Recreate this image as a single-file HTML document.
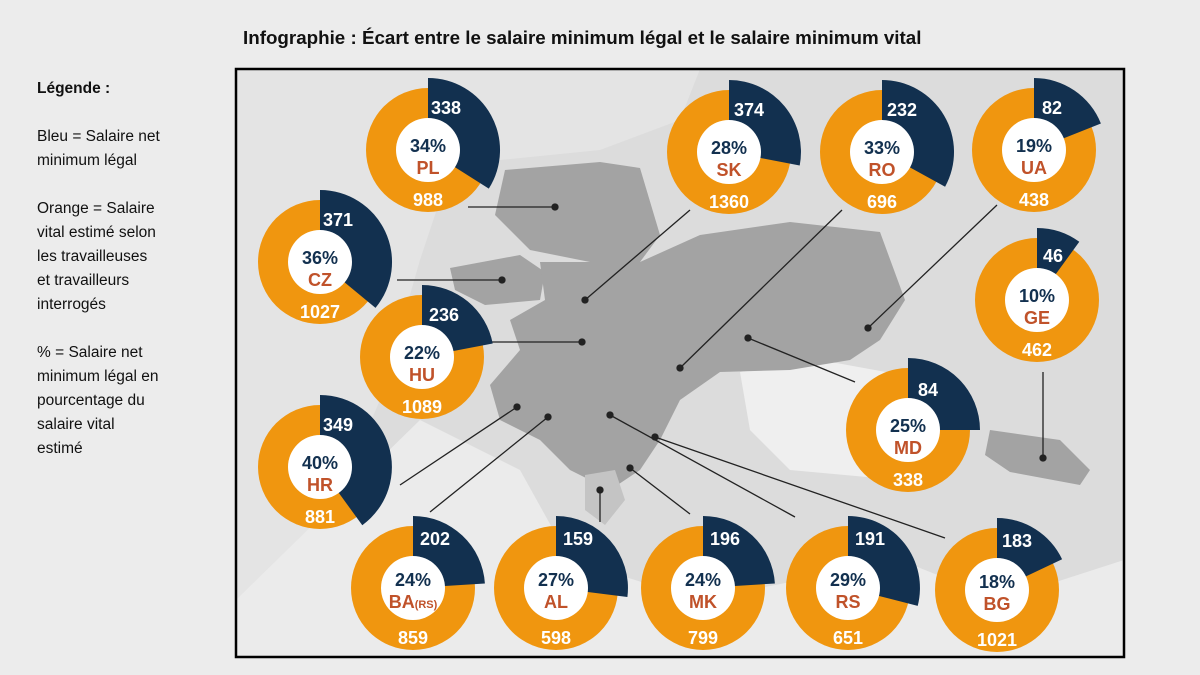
<!DOCTYPE html>
<html><head><meta charset="utf-8"><style>
body{margin:0;width:1200px;height:675px;background:#ececec;font-family:"Liberation Sans",sans-serif;overflow:hidden;position:relative}
#t{position:absolute;left:243px;top:27px;font-size:18.8px;font-weight:bold;color:#111;white-space:nowrap}
#l{position:absolute;left:37px;top:77px;font-size:15.5px;line-height:24px;color:#111;white-space:nowrap}
#l p{margin:0 0 24px 0}
svg{position:absolute;left:0;top:0}
.d text{font-weight:bold;text-anchor:middle}
</style></head><body>
<div id="t">Infographie : Écart entre le salaire minimum légal et le salaire minimum vital</div>
<div id="l"><p><b>Légende :</b></p><p>Bleu = Salaire net<br>minimum légal</p><p>Orange = Salaire<br>vital estimé selon<br>les travailleuses<br>et travailleurs<br>interrogés</p><p>% = Salaire net<br>minimum légal en<br>pourcentage du<br>salaire vital<br>estimé</p></div>
<svg width="1200" height="675">
<defs><clipPath id="c"><rect x="236" y="69" width="888" height="588"/></clipPath></defs>
<g clip-path="url(#c)">
<rect x="236" y="69" width="888" height="588" fill="#dcdcdc"/>
<path d="M236 69 H700 L680 120 L600 150 L500 160 L440 200 L420 260 L400 330 L380 400 L350 470 L300 560 L236 600 Z" fill="#e4e4e4"/>
<path d="M420 420 L520 470 L570 560 L700 600 L900 560 L1000 600 L1124 560 V657 H236 V600 Z" fill="#ebebeb"/>
<path d="M740 372 L820 360 L930 380 L950 440 L900 480 L790 470 L750 430 Z" fill="#efefef"/>
<path d="M505 170 L600 162 L640 168 L660 235 L640 262 L590 262 L530 250 L495 215 Z" fill="#a3a3a3"/>
<path d="M450 268 L520 255 L545 272 L540 300 L485 305 L455 290 Z" fill="#a3a3a3"/>
<path d="M540 262 L640 262 L700 235 L790 222 L880 232 L905 300 L880 340 L850 360 L790 370 L720 372 L680 400 L660 440 L640 470 L610 490 L570 470 L540 440 L500 420 L490 385 L520 350 L510 320 L545 300 Z" fill="#a3a3a3"/>
<path d="M990 430 L1060 440 L1090 470 L1080 485 L1010 472 L985 455 Z" fill="#a3a3a3"/>
<path d="M585 475 L615 470 L625 500 L605 525 L585 510 Z" fill="#c4c4c4"/>
<g stroke="#222" stroke-width="1.3" fill="#222">
<line x1="468" y1="207" x2="555" y2="207"/><circle cx="555" cy="207" r="3"/>
<line x1="397" y1="280" x2="502" y2="280"/><circle cx="502" cy="280" r="3"/>
<line x1="490" y1="342" x2="582" y2="342"/><circle cx="582" cy="342" r="3"/>
<line x1="690" y1="210" x2="585" y2="300"/><circle cx="585" cy="300" r="3"/>
<line x1="842" y1="210" x2="680" y2="368"/><circle cx="680" cy="368" r="3"/>
<line x1="997" y1="205" x2="868" y2="328"/><circle cx="868" cy="328" r="3"/>
<line x1="855" y1="382" x2="748" y2="338"/><circle cx="748" cy="338" r="3"/>
<line x1="1043" y1="372" x2="1043" y2="458"/><circle cx="1043" cy="458" r="3"/>
<line x1="400" y1="485" x2="517" y2="407"/><circle cx="517" cy="407" r="3"/>
<line x1="430" y1="512" x2="548" y2="417"/><circle cx="548" cy="417" r="3"/>
<line x1="600" y1="522" x2="600" y2="490"/><circle cx="600" cy="490" r="3"/>
<line x1="690" y1="514" x2="630" y2="468"/><circle cx="630" cy="468" r="3"/>
<line x1="795" y1="517" x2="610" y2="415"/><circle cx="610" cy="415" r="3"/>
<line x1="945" y1="538" x2="655" y2="437"/><circle cx="655" cy="437" r="3"/>
</g>
<g class="d" font-size="18">
<g transform="translate(428,150)"><circle r="62" fill="#f0960f"/><path d="M0,-30L0,-72A72,72 0 0 1 60.8,38.6L25.3,16.1A30,30 0 0 0 0,-30Z" fill="#12304f"/><circle r="32" fill="#fff"/><text x="18" y="-36" fill="#fff">338</text><text y="2" fill="#12304f">34%</text><text y="24" fill="#c0522a">PL</text><text y="56" fill="#fff">988</text></g>
<g transform="translate(320,262)"><circle r="62" fill="#f0960f"/><path d="M0,-30L0,-72A72,72 0 0 1 55.5,45.9L23.1,19.1A30,30 0 0 0 0,-30Z" fill="#12304f"/><circle r="32" fill="#fff"/><text x="18" y="-36" fill="#fff">371</text><text y="2" fill="#12304f">36%</text><text y="24" fill="#c0522a">CZ</text><text y="56" fill="#fff">1027</text></g>
<g transform="translate(422,357)"><circle r="62" fill="#f0960f"/><path d="M0,-30L0,-72A72,72 0 0 1 70.7,-13.5L29.5,-5.6A30,30 0 0 0 0,-30Z" fill="#12304f"/><circle r="32" fill="#fff"/><text x="22" y="-36" fill="#fff">236</text><text y="2" fill="#12304f">22%</text><text y="24" fill="#c0522a">HU</text><text y="56" fill="#fff">1089</text></g>
<g transform="translate(320,467)"><circle r="62" fill="#f0960f"/><path d="M0,-30L0,-72A72,72 0 0 1 42.3,58.2L17.6,24.3A30,30 0 0 0 0,-30Z" fill="#12304f"/><circle r="32" fill="#fff"/><text x="18" y="-36" fill="#fff">349</text><text y="2" fill="#12304f">40%</text><text y="24" fill="#c0522a">HR</text><text y="56" fill="#fff">881</text></g>
<g transform="translate(729,152)"><circle r="62" fill="#f0960f"/><path d="M0,-30L0,-72A72,72 0 0 1 70.7,13.5L29.5,5.6A30,30 0 0 0 0,-30Z" fill="#12304f"/><circle r="32" fill="#fff"/><text x="20" y="-36" fill="#fff">374</text><text y="2" fill="#12304f">28%</text><text y="24" fill="#c0522a">SK</text><text y="56" fill="#fff">1360</text></g>
<g transform="translate(882,152)"><circle r="62" fill="#f0960f"/><path d="M0,-30L0,-72A72,72 0 0 1 63.1,34.7L26.3,14.5A30,30 0 0 0 0,-30Z" fill="#12304f"/><circle r="32" fill="#fff"/><text x="20" y="-36" fill="#fff">232</text><text y="2" fill="#12304f">33%</text><text y="24" fill="#c0522a">RO</text><text y="56" fill="#fff">696</text></g>
<g transform="translate(1034,150)"><circle r="62" fill="#f0960f"/><path d="M0,-30L0,-72A72,72 0 0 1 66.9,-26.5L27.9,-11A30,30 0 0 0 0,-30Z" fill="#12304f"/><circle r="32" fill="#fff"/><text x="18" y="-36" fill="#fff">82</text><text y="2" fill="#12304f">19%</text><text y="24" fill="#c0522a">UA</text><text y="56" fill="#fff">438</text></g>
<g transform="translate(1037,300)"><circle r="62" fill="#f0960f"/><path d="M0,-30L0,-72A72,72 0 0 1 42.3,-58.2L17.6,-24.3A30,30 0 0 0 0,-30Z" fill="#12304f"/><circle r="32" fill="#fff"/><text x="16" y="-38" fill="#fff">46</text><text y="2" fill="#12304f">10%</text><text y="24" fill="#c0522a">GE</text><text y="56" fill="#fff">462</text></g>
<g transform="translate(908,430)"><circle r="62" fill="#f0960f"/><path d="M0,-30L0,-72A72,72 0 0 1 72,0L30,0A30,30 0 0 0 0,-30Z" fill="#12304f"/><circle r="32" fill="#fff"/><text x="20" y="-34" fill="#fff">84</text><text y="2" fill="#12304f">25%</text><text y="24" fill="#c0522a">MD</text><text y="56" fill="#fff">338</text></g>
<g transform="translate(413,588)"><circle r="62" fill="#f0960f"/><path d="M0,-30L0,-72A72,72 0 0 1 71.9,-4.5L29.9,-1.9A30,30 0 0 0 0,-30Z" fill="#12304f"/><circle r="32" fill="#fff"/><text x="22" y="-43" fill="#fff">202</text><text y="-2" fill="#12304f">24%</text><text y="20" fill="#c0522a">BA<tspan font-size="11">(RS)</tspan></text><text y="56" fill="#fff">859</text></g>
<g transform="translate(556,588)"><circle r="62" fill="#f0960f"/><path d="M0,-30L0,-72A72,72 0 0 1 71.4,9L29.8,3.8A30,30 0 0 0 0,-30Z" fill="#12304f"/><circle r="32" fill="#fff"/><text x="22" y="-43" fill="#fff">159</text><text y="-2" fill="#12304f">27%</text><text y="20" fill="#c0522a">AL</text><text y="56" fill="#fff">598</text></g>
<g transform="translate(703,588)"><circle r="62" fill="#f0960f"/><path d="M0,-30L0,-72A72,72 0 0 1 71.9,-4.5L29.9,-1.9A30,30 0 0 0 0,-30Z" fill="#12304f"/><circle r="32" fill="#fff"/><text x="22" y="-43" fill="#fff">196</text><text y="-2" fill="#12304f">24%</text><text y="20" fill="#c0522a">MK</text><text y="56" fill="#fff">799</text></g>
<g transform="translate(848,588)"><circle r="62" fill="#f0960f"/><path d="M0,-30L0,-72A72,72 0 0 1 69.7,17.9L29.1,7.5A30,30 0 0 0 0,-30Z" fill="#12304f"/><circle r="32" fill="#fff"/><text x="22" y="-43" fill="#fff">191</text><text y="-2" fill="#12304f">29%</text><text y="20" fill="#c0522a">RS</text><text y="56" fill="#fff">651</text></g>
<g transform="translate(997,590)"><circle r="62" fill="#f0960f"/><path d="M0,-30L0,-72A72,72 0 0 1 65.1,-30.7L27.1,-12.8A30,30 0 0 0 0,-30Z" fill="#12304f"/><circle r="32" fill="#fff"/><text x="20" y="-43" fill="#fff">183</text><text y="-2" fill="#12304f">18%</text><text y="20" fill="#c0522a">BG</text><text y="56" fill="#fff">1021</text></g>
</g>
</g>
<rect x="236" y="69" width="888" height="588" fill="none" stroke="#000" stroke-width="2.5"/>
</svg>
</body></html>
